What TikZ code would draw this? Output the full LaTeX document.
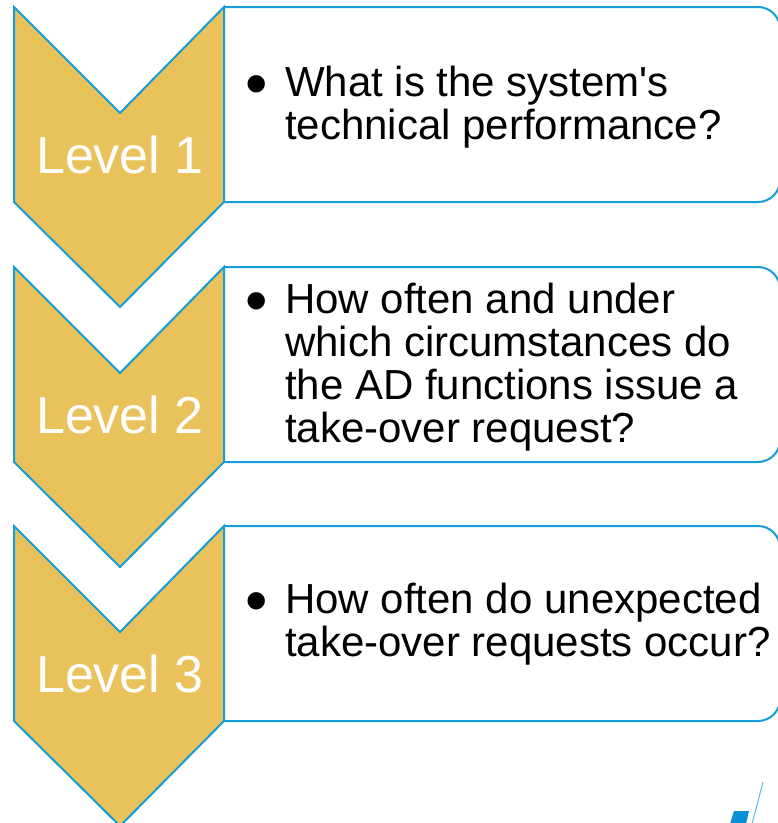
\documentclass[tikz,border=0pt]{standalone}
\usepackage{fontspec}
\setmainfont{Liberation Sans}
\usepackage{xcolor}
\usepackage{tikz}
\definecolor{gold}{HTML}{E9C25C}
\definecolor{edge}{HTML}{159DD8}
\definecolor{logo}{HTML}{0B8FD8}
\definecolor{logoline}{HTML}{5DB5E6}
\tikzset{
  chev/.style={fill=gold, draw=edge, line width=2bp, line join=miter},
  qbox/.style={draw=edge, line width=2bp, rounded corners=22bp},
  lvl/.style={text=white, font=\fontsize{52bp}{52bp}\selectfont, inner sep=0pt},
  bul/.style={text=black, font=\fontsize{64bp}{64bp}\selectfont, inner sep=0pt, anchor=base},
  qtext/.style={text=black, font=\fontsize{42bp}{43bp}\selectfont, align=left, inner sep=0pt, anchor=west},
}

\begin{document}
\begin{tikzpicture}[x=1bp, y=-1bp]
  \useasboundingbox (0,0) rectangle (778,823);
  % boxes
  \draw[qbox] (224,7) -- (780,7) -- (780,202) -- (224,202);
  \draw[qbox] (224,267) -- (780,267) -- (780,462) -- (224,462);
  \draw[qbox] (224,526) -- (780,526) -- (780,721) -- (224,721);
  % chevrons
  \draw[chev] (14,7) -- (120,113) -- (224,7) -- (224,202) -- (120,307) -- (14,202) -- cycle;
  \draw[chev] (14,267) -- (120,373) -- (224,267) -- (224,462) -- (120,567) -- (14,462) -- cycle;
  \draw[chev] (14,526) -- (120,632) -- (224,526) -- (224,721) -- (120,826) -- (14,721) -- cycle;
  \node[lvl] (l1) at (120,155) {Level 1};
  \node[lvl] (l2) at (120,415) {Level 2};
  \node[lvl] (l3) at (120,674) {Level 3};
  % questions
  \node[bul] (b1) at (257,105) {•};
  \node[qtext] (q1) at (285,107.6) {What is the system\textquotesingle s\\technical performance?};
  \node[bul] (b2) at (257,322) {•};
  \node[qtext] (q2) at (285,367.6) {How often and under\\which circumstances do\\the AD functions issue a\\take-over request?};
  \node[bul] (b3) at (257,622) {•};
  \node[qtext] (q3) at (285,624.6) {How often do unexpected\\take-over requests occur?};
  % logo corner
  \fill[logo] (734,811) -- (749,811) -- (746,824) -- (730,824) -- cycle;
  \draw[logoline, line width=1bp] (763,782) -- (752,824);
\end{tikzpicture}
\end{document}
